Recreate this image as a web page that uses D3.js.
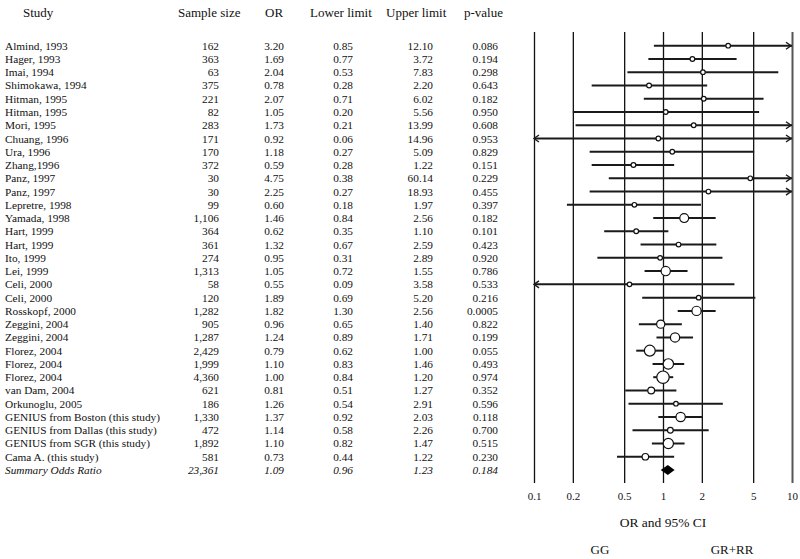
<!DOCTYPE html>
<html>
<head>
<meta charset="utf-8">
<script src="https://cdn.jsdelivr.net/npm/d3@7"></script>
<style>
  body { margin: 0; background: #fff; }
  svg text { font-family: "Liberation Serif", "Times New Roman", serif; fill: #111; }
</style>
</head>
<body>
<script>
// study data
var studies = ["Almind, 1993", "Hager, 1993", "Imai, 1994", "Shimokawa, 1994", "Hitman, 1995", "Hitman, 1995",
  "Mori, 1995", "Chuang, 1996", "Ura, 1996", "Zhang,1996", "Panz, 1997", "Panz, 1997", "Lepretre, 1998",
  "Yamada, 1998", "Hart, 1999", "Hart, 1999", "Ito, 1999", "Lei, 1999", "Celi, 2000", "Celi, 2000",
  "Rosskopf, 2000", "Zeggini, 2004", "Zeggini, 2004", "Florez, 2004", "Florez, 2004", "Florez, 2004",
  "van Dam, 2004", "Orkunoglu, 2005", "GENIUS from Boston (this study)", "GENIUS from Dallas (this study)",
  "GENIUS from SGR (this study)", "Cama A. (this study)"];
var sampleSize = [162, 363, 63, 375, 221, 82, 283, 171, 170, 372, 30, 30, 99, 1106, 364, 361, 274, 1313, 58, 120,
  1282, 905, 1287, 2429, 1999, 4360, 621, 186, 1330, 472, 1892, 581];
var oddsRatio = [3.20, 1.69, 2.04, 0.78, 2.07, 1.05, 1.73, 0.92, 1.18, 0.59, 4.75, 2.25, 0.60, 1.46, 0.62, 1.32,
  0.95, 1.05, 0.55, 1.89, 1.82, 0.96, 1.24, 0.79, 1.10, 1.00, 0.81, 1.26, 1.37, 1.14, 1.10, 0.73];
var lowerLimit = [0.85, 0.77, 0.53, 0.28, 0.71, 0.20, 0.21, 0.06, 0.27, 0.28, 0.38, 0.27, 0.18, 0.84, 0.35, 0.67,
  0.31, 0.72, 0.09, 0.69, 1.30, 0.65, 0.89, 0.62, 0.83, 0.84, 0.51, 0.54, 0.92, 0.58, 0.82, 0.44];
var upperLimit = [12.10, 3.72, 7.83, 2.20, 6.02, 5.56, 13.99, 14.96, 5.09, 1.22, 60.14, 18.93, 1.97, 2.56, 1.10,
  2.59, 2.89, 1.55, 3.58, 5.20, 2.56, 1.40, 1.71, 1.00, 1.46, 1.20, 1.27, 2.91, 2.03, 2.26, 1.47, 1.22];
var pValue = ["0.086", "0.194", "0.298", "0.643", "0.182", "0.950", "0.608", "0.953", "0.829", "0.151", "0.229",
  "0.455", "0.397", "0.182", "0.101", "0.423", "0.920", "0.786", "0.533", "0.216", "0.0005", "0.822", "0.199",
  "0.055", "0.493", "0.974", "0.352", "0.596", "0.118", "0.700", "0.515", "0.230"];

var summary = { label: "Summary Odds Ratio", n: "23,361", or: "1.09", lo: "0.96", hi: "1.23", p: "0.184" };
var summaryOR = 1.09, summaryLo = 0.96, summaryHi = 1.23;

var axisTicks = [0.1, 0.2, 0.5, 1, 2, 5, 10];

var width = 800, height = 559;
var svg = d3.select("body").append("svg")
  .attr("width", width)
  .attr("height", height);

var fmt2 = d3.format(".2f");
var fmtN = d3.format(",");

// scales
var x = d3.scaleLog().domain([0.1, 10]).range([534, 792]);
var y = d3.scalePoint().domain(d3.range(studies.length + 1)).range([45.7, 470]);
var r = d3.scaleLog().domain([350, 1000, 4360]).range([2.3, 4.3, 6.2]).clamp(true);

var plotTop = 32, plotBottom = 483;

// header
var headers = [["Study", 23], ["Sample size", 178], ["OR", 265], ["Lower limit", 310], ["Upper limit", 386], ["p-value", 464]];
svg.append("g").selectAll("text")
  .data(headers)
  .join("text")
  .attr("x", function(d) { return d[1]; })
  .attr("y", 17)
  .style("font-size", "13px")
  .text(function(d) { return d[0]; });

// table
var cols = [
  { x: 219, get: function(i) { return fmtN(sampleSize[i]); } },
  { x: 284, get: function(i) { return fmt2(oddsRatio[i]); } },
  { x: 353, get: function(i) { return fmt2(lowerLimit[i]); } },
  { x: 433, get: function(i) { return fmt2(upperLimit[i]); } },
  { x: 498, get: function(i) { return pValue[i]; } }
];

var table = svg.append("g").style("font-size", "11.3px");
var rows = table.selectAll("g.row")
  .data(d3.range(studies.length))
  .join("g")
  .attr("class", "row")
  .attr("transform", function(i) { return "translate(0," + (y(i) + 4) + ")"; });

rows.append("text").attr("x", 5).text(function(i) { return studies[i]; });
cols.forEach(function(c) {
  rows.append("text")
    .attr("x", c.x)
    .attr("text-anchor", "end")
    .text(function(i) { return c.get(i); });
});

var sRow = table.append("g")
  .attr("transform", "translate(0," + (y(studies.length) + 4) + ")")
  .style("font-style", "italic");
sRow.append("text").attr("x", 5).text(summary.label);
[summary.n, summary.or, summary.lo, summary.hi, summary.p].forEach(function(t, k) {
  sRow.append("text").attr("x", cols[k].x).attr("text-anchor", "end").text(t);
});

// grid / axis
var axis = d3.axisBottom(x)
  .tickValues(axisTicks)
  .tickSize(-(plotBottom - plotTop))
  .tickPadding(9)
  .tickFormat(function(d) { return String(d); });

var gx = svg.append("g")
  .attr("transform", "translate(0," + plotBottom + ")")
  .call(axis);
gx.select(".domain").remove();
gx.selectAll(".tick line")
  .attr("stroke", function(d) { return d === 10 ? "#555" : "#111"; })
  .attr("stroke-width", function(d) { return d === 10 ? 2 : 1.3; });
gx.selectAll(".tick text")
  .style("font-family", "Liberation Serif, serif")
  .style("font-size", "11px")
  .attr("fill", "#111");

// CI lines
var plot = svg.append("g");
var idx = d3.range(studies.length);

plot.selectAll("line.ci")
  .data(idx)
  .join("line")
  .attr("class", "ci")
  .attr("x1", function(i) { return x(Math.max(lowerLimit[i], 0.1)); })
  .attr("x2", function(i) { return x(Math.min(upperLimit[i], 10)); })
  .attr("y1", function(i) { return y(i); })
  .attr("y2", function(i) { return y(i); })
  .attr("stroke", "#1a1a1a")
  .attr("stroke-width", 2);

// arrows for clipped intervals
plot.selectAll("path.right")
  .data(idx.filter(function(i) { return upperLimit[i] > 10; }))
  .join("path")
  .attr("class", "right")
  .attr("d", function(i) {
    var xx = x(10) - 1, yy = y(i);
    return "M" + (xx - 5) + "," + (yy - 3.5) + "L" + xx + "," + yy + "L" + (xx - 5) + "," + (yy + 3.5);
  })
  .attr("fill", "none")
  .attr("stroke", "#1a1a1a")
  .attr("stroke-width", 1.4);

plot.selectAll("path.left")
  .data(idx.filter(function(i) { return lowerLimit[i] < 0.1; }))
  .join("path")
  .attr("class", "left")
  .attr("d", function(i) {
    var xx = x(0.1), yy = y(i);
    return "M" + (xx + 5) + "," + (yy - 3.5) + "L" + xx + "," + yy + "L" + (xx + 5) + "," + (yy + 3.5);
  })
  .attr("fill", "none")
  .attr("stroke", "#1a1a1a")
  .attr("stroke-width", 1.4);

// point estimates
plot.selectAll("circle")
  .data(idx)
  .join("circle")
  .attr("cx", function(i) { return x(oddsRatio[i]); })
  .attr("cy", function(i) { return y(i); })
  .attr("r", function(i) { return r(sampleSize[i]); })
  .attr("fill", "#fff")
  .attr("stroke", "#111")
  .attr("stroke-width", 1.2);

// summary diamond
var sy = y(studies.length);
plot.append("path")
  .attr("d", "M" + x(summaryLo) + "," + sy + "L" + x(summaryOR) + "," + (sy - 5) +
    "L" + x(summaryHi) + "," + sy + "L" + x(summaryOR) + "," + (sy + 5) + "Z")
  .attr("fill", "#000");

// axis titles
svg.append("text")
  .attr("x", x(1))
  .attr("y", 527)
  .attr("text-anchor", "middle")
  .style("font-size", "13.5px")
  .text("OR and 95% CI");

svg.append("text")
  .attr("x", 600)
  .attr("y", 554)
  .attr("text-anchor", "middle")
  .style("font-size", "13px")
  .text("GG");

svg.append("text")
  .attr("x", 732)
  .attr("y", 554)
  .attr("text-anchor", "middle")
  .style("font-size", "13px")
  .text("GR+RR");
</script>
</body>
</html>
